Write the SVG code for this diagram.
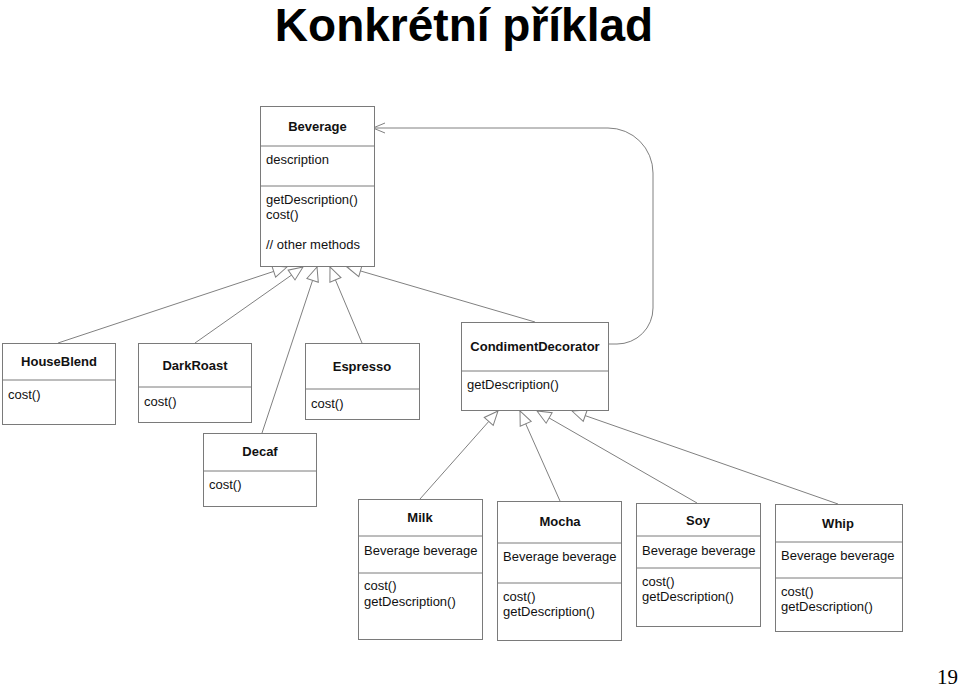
<svg xmlns="http://www.w3.org/2000/svg" width="960" height="688" viewBox="0 0 960 688">
<defs>
<style>
.box{fill:#fff;stroke:#7a7a7a;stroke-width:1}
.div{stroke:#7a7a7a;stroke-width:1}
.t{font-family:"Liberation Sans",Arial,sans-serif;font-size:13px;fill:#111}
.b{font-family:"Liberation Sans",Arial,sans-serif;font-size:13px;font-weight:bold;fill:#111;text-anchor:middle}
.ln{fill:none;stroke:#808080;stroke-width:1}
</style>
<marker id="gen" markerUnits="userSpaceOnUse" markerWidth="18" markerHeight="16" viewBox="-16 -8 18 16" refX="0" refY="0" orient="auto">
<path d="M0,0 L-14,-6 L-14,6 Z" fill="#fff" stroke="#808080" stroke-width="1"/>
</marker>
<marker id="open" markerUnits="userSpaceOnUse" markerWidth="16" markerHeight="14" viewBox="-14 -7 16 14" refX="0" refY="0" orient="auto">
<path d="M-12,-5 L0,0 L-12,5" fill="none" stroke="#808080" stroke-width="1"/>
</marker>
</defs>
<rect width="960" height="688" fill="#fff"/>
<text x="464" y="41" font-family="'Liberation Sans',Arial,sans-serif" font-size="46" font-weight="bold" text-anchor="middle" fill="#000">Konkrétní příklad</text>
<text x="958" y="684" font-family="'Liberation Serif','Times New Roman',serif" font-size="21" text-anchor="end" fill="#000">19</text>

<g id="connectors">
<line class="ln" x1="58" y1="343" x2="287" y2="267" marker-end="url(#gen)"/>
<line class="ln" x1="195" y1="343" x2="303" y2="267" marker-end="url(#gen)"/>
<line class="ln" x1="262" y1="433" x2="317" y2="267" marker-end="url(#gen)"/>
<line class="ln" x1="362" y1="343" x2="330" y2="267" marker-end="url(#gen)"/>
<line class="ln" x1="535" y1="322" x2="347" y2="267" marker-end="url(#gen)"/>
<line class="ln" x1="420" y1="499" x2="498" y2="411" marker-end="url(#gen)"/>
<line class="ln" x1="560" y1="501" x2="520" y2="411" marker-end="url(#gen)"/>
<line class="ln" x1="697" y1="503" x2="537" y2="411" marker-end="url(#gen)"/>
<line class="ln" x1="838" y1="504" x2="572" y2="411" marker-end="url(#gen)"/>
<path class="ln" d="M609,344 H617 A36,36 0 0 0 653,308 V173 A45,45 0 0 0 608,128 H373" marker-end="url(#open)"/>
</g>

<g id="Beverage">
<rect class="box" x="260.5" y="106.5" width="114" height="160"/>
<line class="div" x1="260.5" y1="146" x2="374.5" y2="146"/>
<line class="div" x1="260.5" y1="186" x2="374.5" y2="186"/>
<text class="b" x="317.5" y="131">Beverage</text>
<text class="t" x="266" y="164">description</text>
<text class="t" x="266" y="204">getDescription()</text>
<text class="t" x="266" y="219">cost()</text>
<text class="t" x="266" y="249">// other methods</text>
</g>

<g id="HouseBlend">
<rect class="box" x="2.5" y="343.5" width="113" height="81"/>
<line class="div" x1="2.5" y1="380" x2="115.5" y2="380"/>
<text class="b" x="59" y="366">HouseBlend</text>
<text class="t" x="8" y="399">cost()</text>
</g>

<g id="DarkRoast">
<rect class="box" x="138.5" y="343.5" width="113" height="79"/>
<line class="div" x1="138.5" y1="387" x2="251.5" y2="387"/>
<text class="b" x="195" y="370">DarkRoast</text>
<text class="t" x="144" y="406">cost()</text>
</g>

<g id="Espresso">
<rect class="box" x="305.5" y="343.5" width="114" height="76"/>
<line class="div" x1="305.5" y1="389" x2="419.5" y2="389"/>
<text class="b" x="362" y="371">Espresso</text>
<text class="t" x="311" y="408">cost()</text>
</g>

<g id="CondimentDecorator">
<rect class="box" x="461.5" y="322.5" width="147" height="88"/>
<line class="div" x1="461.5" y1="371" x2="608.5" y2="371"/>
<text class="b" x="535" y="351">CondimentDecorator</text>
<text class="t" x="467" y="389">getDescription()</text>
</g>

<g id="Decaf">
<rect class="box" x="203.5" y="433.5" width="113" height="73"/>
<line class="div" x1="203.5" y1="471" x2="316.5" y2="471"/>
<text class="b" x="260" y="456">Decaf</text>
<text class="t" x="209" y="489">cost()</text>
</g>

<g id="Milk">
<rect class="box" x="358.5" y="499.5" width="124" height="140"/>
<line class="div" x1="358.5" y1="536" x2="482.5" y2="536"/>
<line class="div" x1="358.5" y1="573" x2="482.5" y2="573"/>
<text class="b" x="420" y="522">Milk</text>
<text class="t" x="364" y="555">Beverage beverage</text>
<text class="t" x="364" y="590">cost()</text>
<text class="t" x="364" y="606">getDescription()</text>
</g>

<g id="Mocha">
<rect class="box" x="497.5" y="501.5" width="124" height="139"/>
<line class="div" x1="497.5" y1="543" x2="621.5" y2="543"/>
<line class="div" x1="497.5" y1="583" x2="621.5" y2="583"/>
<text class="b" x="560" y="526">Mocha</text>
<text class="t" x="503" y="561">Beverage beverage</text>
<text class="t" x="503" y="601">cost()</text>
<text class="t" x="503" y="616">getDescription()</text>
</g>

<g id="Soy">
<rect class="box" x="636.5" y="503.5" width="124" height="123"/>
<line class="div" x1="636.5" y1="536" x2="760.5" y2="536"/>
<line class="div" x1="636.5" y1="568" x2="760.5" y2="568"/>
<text class="b" x="698" y="525">Soy</text>
<text class="t" x="642" y="555">Beverage beverage</text>
<text class="t" x="642" y="586">cost()</text>
<text class="t" x="642" y="601">getDescription()</text>
</g>

<g id="Whip">
<rect class="box" x="775.5" y="504.5" width="127" height="127"/>
<line class="div" x1="775.5" y1="542" x2="902.5" y2="542"/>
<line class="div" x1="775.5" y1="578" x2="902.5" y2="578"/>
<text class="b" x="838" y="528">Whip</text>
<text class="t" x="781" y="560">Beverage beverage</text>
<text class="t" x="781" y="596">cost()</text>
<text class="t" x="781" y="611">getDescription()</text>
</g>
</svg>
